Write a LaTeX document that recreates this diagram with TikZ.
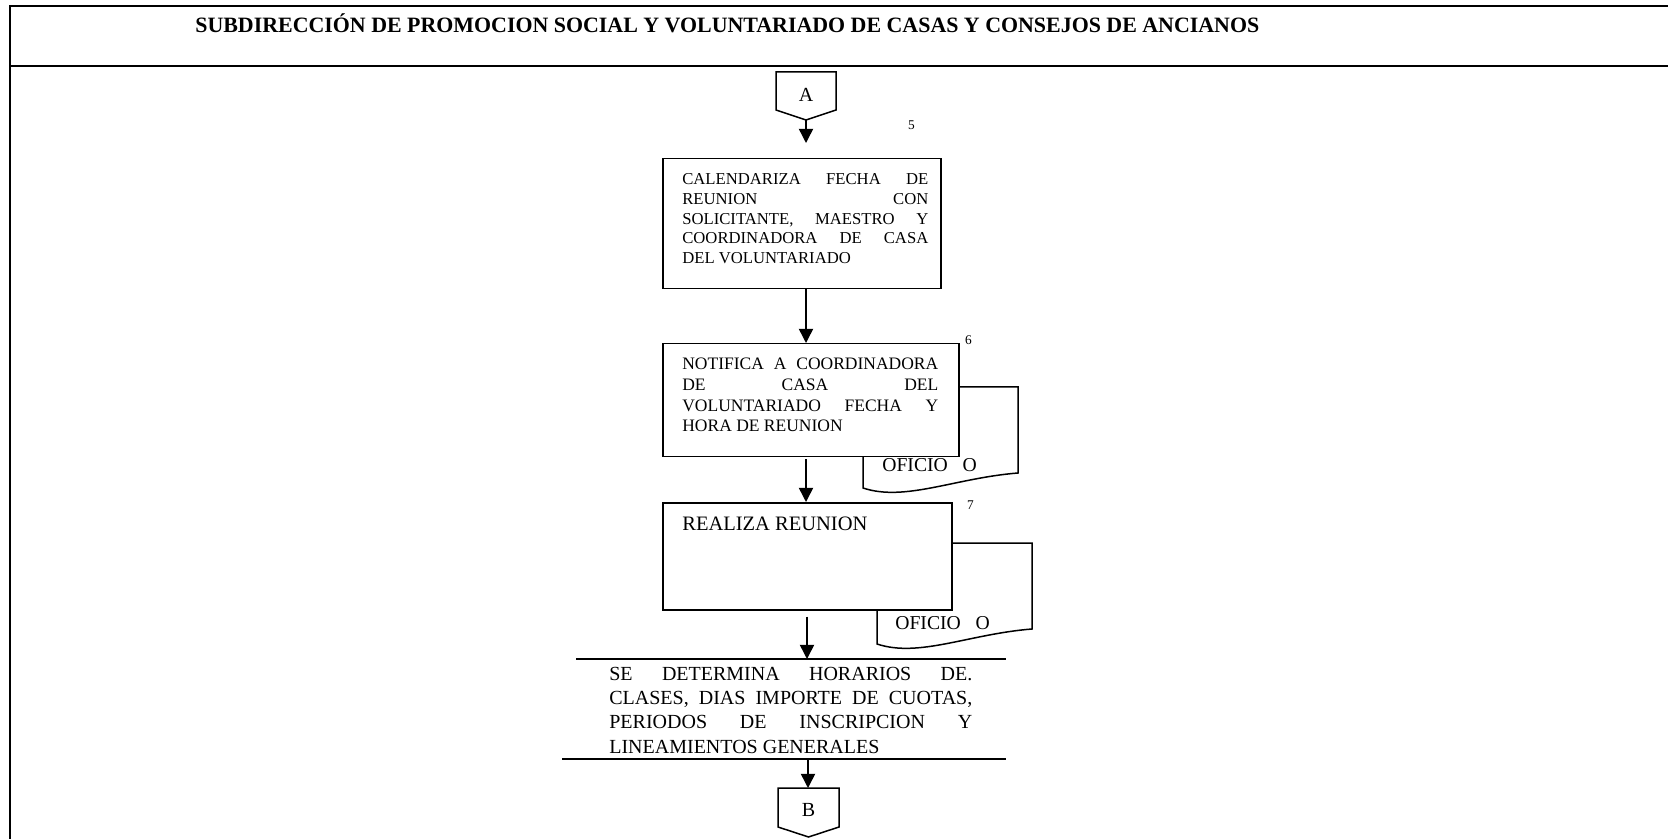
\documentclass[tikz,border=0pt]{standalone}
\usepackage{fontspec}
\setmainfont{Liberation Serif}
\usetikzlibrary{arrows.meta}

\newdimen\pxu \pxu=0.6pt

\begin{document}
\begin{tikzpicture}[x=0.6pt, y=-0.6pt,
  frame/.style={line width=1.2pt},
  box/.style={draw, fill=white, line width=0.9pt, anchor=north west, inner sep=0pt},
  txt/.style={anchor=north west, inner sep=0pt, align=justify},
  num/.style={font=\fontsize{8}{9}\selectfont, inner sep=0pt},
  flow/.style={draw, line width=0.9pt, -{Triangle[length=8.5pt,width=8.5pt]}},
  doc/.style={draw, fill=white, line width=0.9pt}]

  \useasboundingbox (0,0) rectangle (1668,839);

  % frame and header
  \draw[frame] (1668,6) -- (10,6) -- (10,839);
  \draw[frame] (10,66) -- (1668,66);
  \node[anchor=base west, inner sep=0pt, font=\fontsize{13.15}{15}\selectfont\bfseries] (titulo) at (195,33)
    {SUBDIRECCIÓN DE PROMOCION SOCIAL Y VOLUNTARIADO DE CASAS Y CONSEJOS DE ANCIANOS};

  % connector A
  \draw[line width=0.9pt] (776,72) -- (836,72) -- (836,110) -- (806,120) -- (776,110) -- cycle;
  \node[font=\fontsize{12}{14}\selectfont, inner sep=0pt] (conA) at (806,95) {A};
  \coordinate (conApt) at (806,120);

  % documents behind the boxes
  \draw[doc] (863,488) -- (863,387) -- (1018,387) -- (1018,473)
    .. controls (955,478) and (905,502) .. (863,488) -- cycle;
  \draw[doc] (877,644) -- (877,543) -- (1032,543) -- (1032,629)
    .. controls (969,634) and (919,658) .. (877,644) -- cycle;
  \node[anchor=base west, inner sep=0pt, font=\fontsize{11.8}{13}\selectfont] (oficio6) at (882,472) {OFICIO~~~O};
  \node[anchor=base west, inner sep=0pt, font=\fontsize{11.8}{13}\selectfont] (oficio7) at (895,629) {OFICIO~~~O};

  % step 5
  \node[box, minimum width=278\pxu, minimum height=130\pxu] (cal) at (662,158) {};
  \node[txt, text width=147.6pt, font=\fontsize{10}{11.9}\selectfont] (caltxt) at (682,173)
    {CALENDARIZA FECHA DE\linebreak REUNION CON\linebreak SOLICITANTE, MAESTRO Y\linebreak
     COORDINADORA DE CASA\linebreak DEL VOLUNTARIADO};
  \node[num] (n5) at (911.5,125.5) {5};

  % step 6
  \node[box, minimum width=296\pxu, minimum height=113\pxu] (notif) at (662,343) {};
  \node[txt, text width=153.6pt, font=\fontsize{10.5}{12.4}\selectfont] (notiftxt) at (682,358)
    {NOTIFICA A COORDINADORA\linebreak DE CASA DEL\linebreak VOLUNTARIADO FECHA Y\linebreak
     HORA DE REUNION};
  \node[num] (n6) at (968.5,340.5) {6};

  % step 7
  \node[box, minimum width=289\pxu, minimum height=107\pxu] (reunion) at (662,502) {};
  \node[txt, font=\fontsize{12.3}{14}\selectfont] (reuniontxt) at (682,517) {REALIZA REUNION};
  \node[num] (n7) at (970.5,505) {7};

  % agreements between two rules
  \draw[line width=0.9pt] (576,659) -- (1006,659);
  \draw[line width=0.9pt] (562,759) -- (1006,759);
  \coordinate (detsup) at (807,659);
  \coordinate (detinf) at (808,759);
  \node[txt, text width=217.8pt, font=\fontsize{12}{14.5}\selectfont] (determina) at (609,667)
    {SE DETERMINA HORARIOS DE.\linebreak CLASES, DIAS IMPORTE DE CUOTAS,\linebreak
     PERIODOS DE INSCRIPCION Y\linebreak LINEAMIENTOS GENERALES};

  % connector B
  \draw[line width=0.9pt] (778,788) -- (839,788) -- (839,827) -- (808.5,837) -- (778,827) -- cycle;
  \node[font=\fontsize{12}{14}\selectfont, inner sep=0pt] (conB) at (808.5,810) {B};
  \coordinate (conBtop) at (808,788);

  % flow
  \draw[flow, shorten >=9pt] (conApt) -- (conApt |- cal.north);
  \draw[flow] (cal.south -| conApt) -- (conApt |- notif.north);
  \draw[flow, shorten <=1pt] (notif.south -| conApt) -- (conApt |- reunion.north);
  \draw[flow, shorten <=3.6pt] (reunion.south -| detsup) -- (detsup);
  \draw[flow] (detinf) -- (conBtop);

\end{tikzpicture}
\end{document}
